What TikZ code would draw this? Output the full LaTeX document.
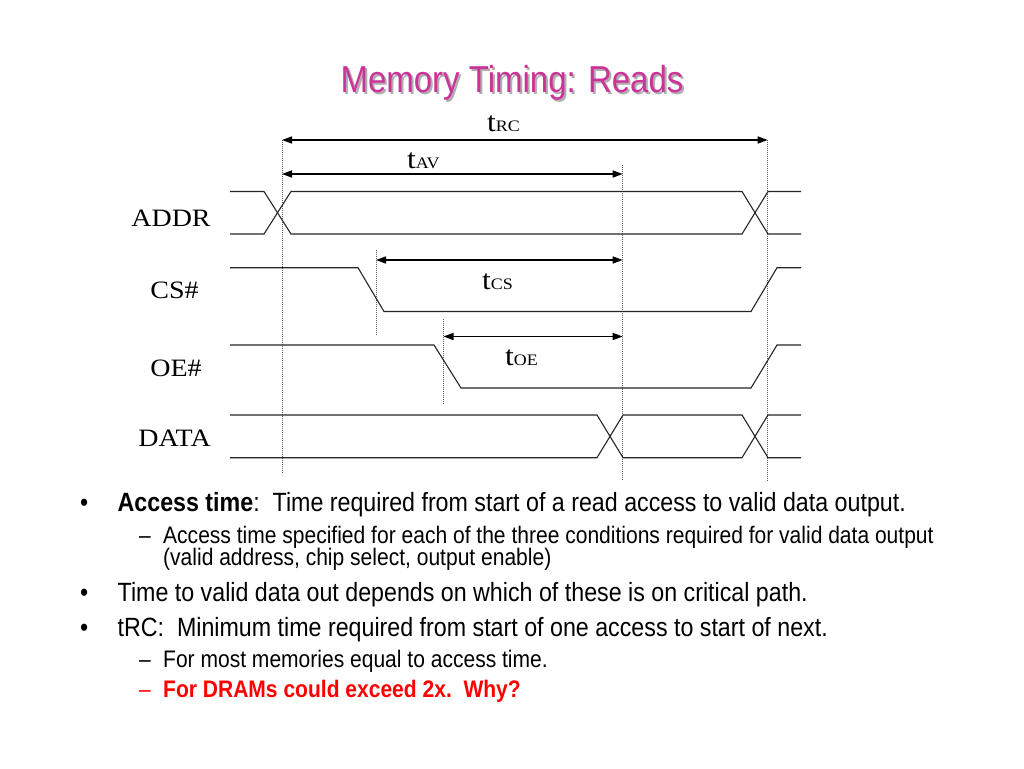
\documentclass[tikz,border=0pt]{standalone}
\usepackage{fontspec}
\setmainfont[FakeStretch=0.88]{Liberation Sans}
\newfontfamily\tmsfont[FakeStretch=1.12]{Liberation Serif}
\usetikzlibrary{arrows.meta}
\definecolor{titlemag}{RGB}{204,51,153}
\definecolor{shadowgray}{RGB}{175,175,175}
\definecolor{dotgray}{RGB}{90,90,90}
\tikzset{
  sig/.style={line width=1.1pt, black!85},
  marker/.style={line width=0.9pt, dotgray, dash pattern=on 1pt off 1pt},
  dim/.style={line width=1.5pt, {Triangle[length=10pt,width=7pt]}-{Triangle[length=10pt,width=7pt]}},
  lbl/.style={inner sep=0pt, anchor=base, font=\tmsfont\fontsize{25}{25}\selectfont},
  tlbl/.style={inner sep=0pt, anchor=base west},
  body/.style={inner sep=0pt, anchor=base west, font=\fontsize{26.4}{26.4}\selectfont},
  subbody/.style={inner sep=0pt, anchor=base west, font=\fontsize{23.9}{23.9}\selectfont},
}
\newcommand{\tlab}[1]{{\tmsfont\fontsize{28}{28}\selectfont t\fontsize{16}{16}\selectfont #1}}
\begin{document}
\begin{tikzpicture}[x=1pt,y=-1pt]
\useasboundingbox[fill=white] (0,0) rectangle (1024,768);

% title
\node[inner sep=0pt, anchor=base, text=shadowgray, font=\fontsize{37.5}{37.5}\selectfont] (titleshadow) at (514,94) {Memory Timing: Reads};
\node[inner sep=0pt, anchor=base, text=titlemag, font=\fontsize{37.5}{37.5}\selectfont] (title) at (512,92) {Memory Timing: Reads};

% marker coordinates
\coordinate (mA) at (282,140);
\coordinate (mAb) at (282,473);
\coordinate (mV) at (622.7,165);
\coordinate (mVb) at (622.7,481);
\coordinate (mR) at (767.7,140);
\coordinate (mRb) at (767.7,481);
\coordinate (mC) at (376,250);
\coordinate (mCb) at (376,336);
\coordinate (mO) at (443.5,319);
\coordinate (mOb) at (443.5,405);

\draw[marker] (mA) -- (mAb);
\draw[marker] (mV) -- (mVb);
\draw[marker] (mR) -- (mRb);
\draw[marker] (mC) -- (mCb);
\draw[marker] (mO) -- (mOb);

% dimension arrows
\coordinate (rcL) at (282,140);  \coordinate (rcR) at (767.7,140);
\coordinate (avL) at (282,174);  \coordinate (avR) at (622.7,174);
\coordinate (csL) at (376,260);  \coordinate (csR) at (622.7,260);
\coordinate (oeL) at (443.5,336.5); \coordinate (oeR) at (622.7,336.5);
\draw[dim] (rcL) -- (rcR);
\draw[dim] (avL) -- (avR);
\draw[dim] (csL) -- (csR);
\draw[dim] (oeL) -- (oeR);

\node[tlbl] (tRC) at (487,131.7) {\tlab{RC}};
\node[tlbl] (tAV) at (407,168) {\tlab{AV}};
\node[tlbl] (tCS) at (482,289) {\tlab{CS}};
\node[tlbl] (tOE) at (505,365) {\tlab{OE}};

% signal names
\node[lbl] (addr) at (171,226) {ADDR};
\node[lbl] (cs) at (174.5,298) {CS\#};
\node[lbl] (oe) at (176,376) {OE\#};
\node[lbl] (data) at (174.5,446) {DATA};

% ADDR
\draw[sig] (230,191.5) -- (264,191.5) -- (291,234) -- (742,234) -- (768,191.5) -- (801,191.5);
\draw[sig] (230,234) -- (264,234) -- (291,191.5) -- (742,191.5) -- (768,234) -- (801,234);
% CS#
\draw[sig] (230,267.7) -- (358,267.7) -- (384,311.5) -- (751,311.5) -- (777,267.7) -- (801,267.7);
% OE#
\draw[sig] (230,345) -- (434,345) -- (461,388) -- (751,388) -- (777,345) -- (801,345);
% DATA
\draw[sig] (230,415) -- (597,415) -- (623,457.7) -- (742,457.7) -- (768,415) -- (801,415);
\draw[sig] (230,457.7) -- (597,457.7) -- (623,415) -- (742,415) -- (768,457.7) -- (801,457.7);

% body text
\node[body] (b1) at (80,511.5) {•};
\node[body] (t1) at (117.5,511.5) {\textbf{Access time}:\ \ Time required from start of a read access to valid data output.};
\node[subbody] (d1) at (139,543.5) {–};
\node[subbody] (s1) at (163,543.5) {Access time specified for each of the three conditions required for valid data output};
\node[subbody] (s1b) at (163,565.5) {(valid address, chip select, output enable)};
\node[body] (b2) at (80,601.7) {•};
\node[body] (t2) at (117.5,601.7) {Time to valid data out depends on which of these is on critical path.};
\node[body] (b3) at (80,636.5) {•};
\node[body] (t3) at (117.5,636.5) {tRC:\ \ Minimum time required from start of one access to start of next.};
\node[subbody] (d2) at (139,667) {–};
\node[subbody] (s2) at (163,667) {For most memories equal to access time.};
\node[subbody, text=red] (d3) at (139,697) {–};
\node[subbody, text=red, font=\fontsize{23.9}{23.9}\selectfont\bfseries] (s3) at (163,697) {For DRAMs could exceed 2x.\ \ Why?};
\end{tikzpicture}
\end{document}
